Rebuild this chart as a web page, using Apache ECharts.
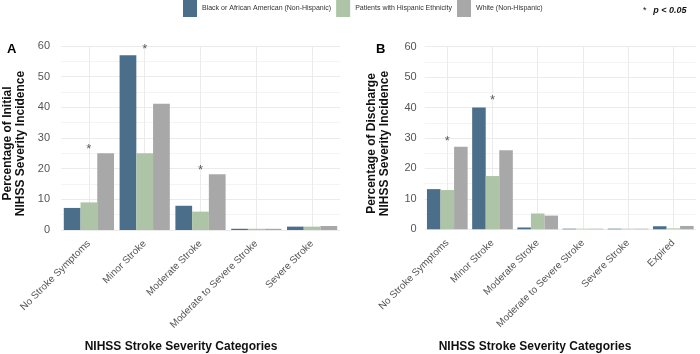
<!DOCTYPE html>
<html><head><meta charset="utf-8">
<script src="https://cdn.jsdelivr.net/npm/echarts@6/dist/echarts.min.js"></script>
<style>html,body{margin:0;padding:0;background:#fff}#c{width:700px;height:354px}</style>
</head><body><div id="c"></div>
<script>
const seriesNames = ['Black or African American (Non-Hispanic)', 'Patients with Hispanic Ethnicity', 'White (Non-Hispanic)'];
const categoriesA = ['No Stroke Symptoms', 'Minor Stroke', 'Moderate Stroke', 'Moderate to Severe Stroke', 'Severe Stroke'];
const categoriesB = ['No Stroke Symptoms', 'Minor Stroke', 'Moderate Stroke', 'Moderate to Severe Stroke', 'Severe Stroke', 'Expired'];
const blackA = [7.2, 57.0, 7.9, 0.4, 1.1];
const hispA = [9.0, 25.0, 6.0, 0.4, 1.1];
const whiteA = [25.0, 41.2, 18.2, 0.4, 1.3];
const blackB = [13.2, 40.0, 0.6, 0.2, 0.2, 1.0];
const hispB = [12.9, 17.5, 5.2, 0.2, 0.2, 0.3];
const whiteB = [27.1, 26.0, 4.5, 0.2, 0.2, 1.1];
const sigA = [27.4, 59.7, 20.5, null, null];
const sigB = [30.0, 43.3, null, null, null, null];
const yMin = 0, yMax = 60, yStep = 10;
const titleA = 'Percentage of Initial\nNIHSS Severity Incidence';
const titleB = 'Percentage of Discharge\nNIHSS Severity Incidence';
const xTitle = 'NIHSS Stroke Severity Categories';

const colors = ['#4b6e8b', '#adc4a6', '#a8a8a8'];
const FONT = 'Liberation Sans, Arial, sans-serif';

function xAxisFor(cats, gi) {
  return {
    type: 'category', gridIndex: gi, data: cats,
    axisLine: {show: false}, axisTick: {show: false},
    axisLabel: {rotate: 45, margin: 12, fontSize: 10, color: '#555', fontFamily: FONT, interval: 0},
    splitLine: {show: true, alignWithLabel: true, lineStyle: {color: '#ebebeb', width: 1}}
  };
}
function yAxisFor(name, gi, margin, gap) {
  return {
    type: 'value', gridIndex: gi, min: yMin, max: yMax, interval: yStep,
    name: name, nameLocation: 'middle', nameRotate: 90, nameGap: gap,
    nameTextStyle: {fontSize: 12, fontWeight: 'bold', color: '#111', fontFamily: FONT, lineHeight: 13, padding: [0, 11, 0, 0]},
    axisLine: {show: false}, axisTick: {show: false},
    axisLabel: {fontSize: 11, color: '#555', margin: margin, fontFamily: FONT},
    splitLine: {lineStyle: {color: '#ebebeb', width: 1}},
    minorTick: {show: false, splitNumber: 2},
    minorSplitLine: {show: true, lineStyle: {color: '#f4f4f4', width: 1}}
  };
}
function bars(data, idx, xi) {
  return {
    type: 'bar', name: seriesNames[idx], xAxisIndex: xi, yAxisIndex: xi, data: data,
    barGap: '0%', barCategoryGap: '10%',
    itemStyle: {color: colors[idx]},
    emphasis: {disabled: true}
  };
}
function sig(data, xi) {
  return {
    type: 'scatter', name: 'sig' + xi, xAxisIndex: xi, yAxisIndex: xi, data: data,
    symbol: 'circle', symbolSize: 1, itemStyle: {color: 'rgba(0,0,0,0)'}, silent: true,
    label: {show: true, position: 'inside', formatter: '*', fontSize: 13, color: '#333', offset: [0, 3], fontFamily: FONT},
    emphasis: {disabled: true}
  };
}

const chart = echarts.init(document.getElementById('c'), null, {renderer: 'canvas'});
chart.setOption({
  animation: false,
  textStyle: {fontFamily: FONT},
  legend: {
    data: seriesNames, left: 183, top: 0, padding: 0, itemWidth: 14, itemHeight: 17, itemGap: 5, icon: 'rect',
    textStyle: {fontSize: 7, color: '#333', fontFamily: FONT}, selectedMode: false
  },
  grid: [
    {left: 60, width: 280, top: 46, height: 184},
    {left: 424.7, width: 271.2, top: 46.7, height: 182.6}
  ],
  xAxis: [xAxisFor(categoriesA, 0), xAxisFor(categoriesB, 1)],
  yAxis: [yAxisFor(titleA, 0, 11, 34), yAxisFor(titleB, 1, 8, 34)],
  series: [
    bars(blackA, 0, 0), bars(hispA, 1, 0), bars(whiteA, 2, 0),
    bars(blackB, 0, 1), bars(hispB, 1, 1), bars(whiteB, 2, 1),
    sig(sigA, 0), sig(sigB, 1)
  ],
  graphic: [
    {type: 'text', left: 7, top: 43, style: {text: 'A', fontSize: 13, fontWeight: 'bold', fill: '#000', fontFamily: FONT}},
    {type: 'text', left: 376, top: 43, style: {text: 'B', fontSize: 13, fontWeight: 'bold', fill: '#000', fontFamily: FONT}},
    {type: 'text', x: 181, y: 347, style: {text: xTitle, fontSize: 12, fontWeight: 'bold', fill: '#111', align: 'center', verticalAlign: 'middle', fontFamily: FONT}},
    {type: 'text', x: 535, y: 347, style: {text: xTitle, fontSize: 12, fontWeight: 'bold', fill: '#111', align: 'center', verticalAlign: 'middle', fontFamily: FONT}},
    {type: 'text', x: 643, y: 11, style: {
      text: '{a|*}  {b|p < 0.05}', verticalAlign: 'middle', fontFamily: FONT,
      rich: {a: {fontSize: 9, fill: '#111', fontFamily: FONT}, b: {fontSize: 9, fontStyle: 'italic', fontWeight: 'bold', fill: '#111', fontFamily: FONT}}
    }}
  ]
});
</script></body></html>
